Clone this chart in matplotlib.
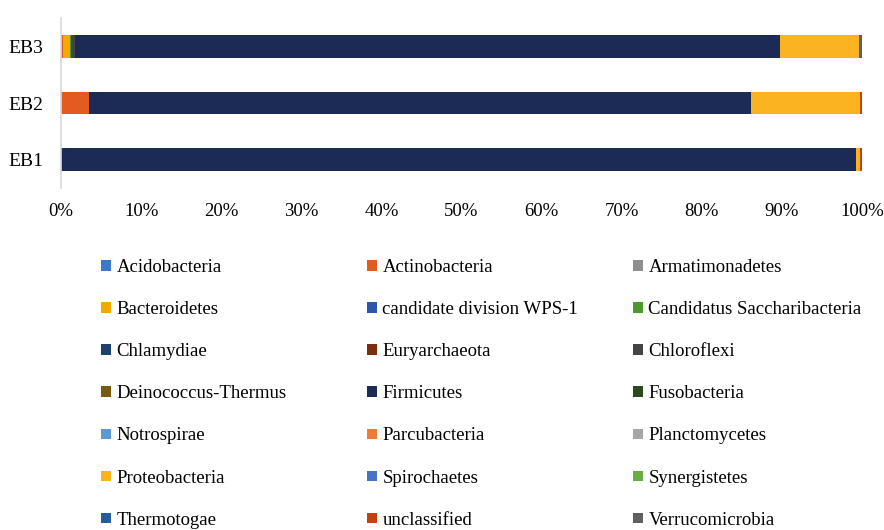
import matplotlib
matplotlib.use("Agg")
import matplotlib.pyplot as plt
from matplotlib.patches import Patch
import numpy as np

samples = ["EB1", "EB2", "EB3"]

phyla = ["Acidobacteria", "Actinobacteria", "Armatimonadetes",
         "Bacteroidetes", "candidate division WPS-1", "Candidatus Saccharibacteria",
         "Chlamydiae", "Euryarchaeota", "Chloroflexi",
         "Deinococcus-Thermus", "Firmicutes", "Fusobacteria",
         "Notrospirae", "Parcubacteria", "Planctomycetes",
         "Proteobacteria", "Spirochaetes", "Synergistetes",
         "Thermotogae", "unclassified", "Verrucomicrobia"]

# percentages per phylum for EB1, EB2, EB3
acidobacteria   = [0.0, 0.0, 0.0]
actinobacteria  = [0.0, 3.5, 0.3]
armatimonadetes = [0.0, 0.0, 0.0]
bacteroidetes   = [0.0, 0.0, 0.8]
wps1            = [0.0, 0.0, 0.0]
saccharibact    = [0.0, 0.0, 0.2]
chlamydiae      = [0.0, 0.0, 0.0]
euryarchaeota   = [0.0, 0.0, 0.0]
chloroflexi     = [0.0, 0.0, 0.5]
deinococcus     = [0.0, 0.0, 0.0]
firmicutes      = [99.3, 82.7, 88.0]
fusobacteria    = [0.0, 0.0, 0.0]
notrospirae     = [0.0, 0.0, 0.0]
parcubacteria   = [0.0, 0.0, 0.0]
planctomycetes  = [0.0, 0.0, 0.0]
proteobacteria  = [0.5, 13.6, 9.8]
spirochaetes    = [0.0, 0.0, 0.0]
synergistetes   = [0.0, 0.0, 0.0]
thermotogae     = [0.0, 0.0, 0.0]
unclassified    = [0.2, 0.2, 0.0]
verrucomicrobia = [0.0, 0.0, 0.4]

values = [acidobacteria, actinobacteria, armatimonadetes, bacteroidetes, wps1,
          saccharibact, chlamydiae, euryarchaeota, chloroflexi, deinococcus,
          firmicutes, fusobacteria, notrospirae, parcubacteria, planctomycetes,
          proteobacteria, spirochaetes, synergistetes, thermotogae, unclassified,
          verrucomicrobia]

colors = ["#3a78c9", "#e35b1e", "#8f8f8f",
          "#f2a900", "#2d55b0", "#4c9a2a",
          "#1d4270", "#7b2d0f", "#444444",
          "#7a5a10", "#1b2b55", "#2b4a1f",
          "#5b9bd5", "#ec7b3c", "#a6a6a6",
          "#fbb41f", "#4a72c4", "#6aad45",
          "#255e9e", "#c5410f", "#5f5f5f"]

xticks = [0, 10, 20, 30, 40, 50, 60, 70, 80, 90, 100]
xticklabels = [f"{t}%" for t in xticks]

plt.rcParams['font.family'] = ['Liberation Serif', 'DejaVu Serif']

fig = plt.figure(figsize=(8.84, 5.30), dpi=100)
ax = fig.add_axes([61/884, 1 - 188/530, 801/884, 170/530])

y = np.arange(len(samples))
left = np.zeros(len(samples))
for name, vals, c in zip(phyla, values, colors):
    vals = np.array(vals, dtype=float)
    ax.barh(y, vals, left=left, height=0.4, color=c, linewidth=0)
    left += vals

ax.set_xlim(0, 100)
ax.set_ylim(-0.5, 2.5)
ax.set_yticks(y)
ax.set_yticklabels(samples, fontsize=14)
ax.set_xticks(xticks)
ax.set_xticklabels(xticklabels, fontsize=13.5)
ax.tick_params(axis='x', length=0, pad=11)
ax.tick_params(axis='y', length=0, pad=12.5)
for s in ['top', 'right', 'bottom']:
    ax.spines[s].set_visible(False)
ax.spines['left'].set_color('#d9d9d9')
ax.spines['left'].set_linewidth(1.2)

# legend in three columns, row-major order
ncol = 3
col_x = [101/884, 367/884, 633/884]
top_y = 1 - 259/530
for ci in range(ncol):
    idx = list(range(ci, len(phyla), ncol))
    handles = [Patch(facecolor=colors[i], edgecolor='none') for i in idx]
    labels = [phyla[i] for i in idx]
    fig.legend(handles, labels, loc='upper left', bbox_to_anchor=(col_x[ci], top_y),
               bbox_transform=fig.transFigure, frameon=False, fontsize=13.5,
               borderpad=0, borderaxespad=0, handlelength=0.55, handleheight=0.5,
               handletextpad=0.27, labelspacing=1.34)

fig.savefig("out.png", dpi=100)
